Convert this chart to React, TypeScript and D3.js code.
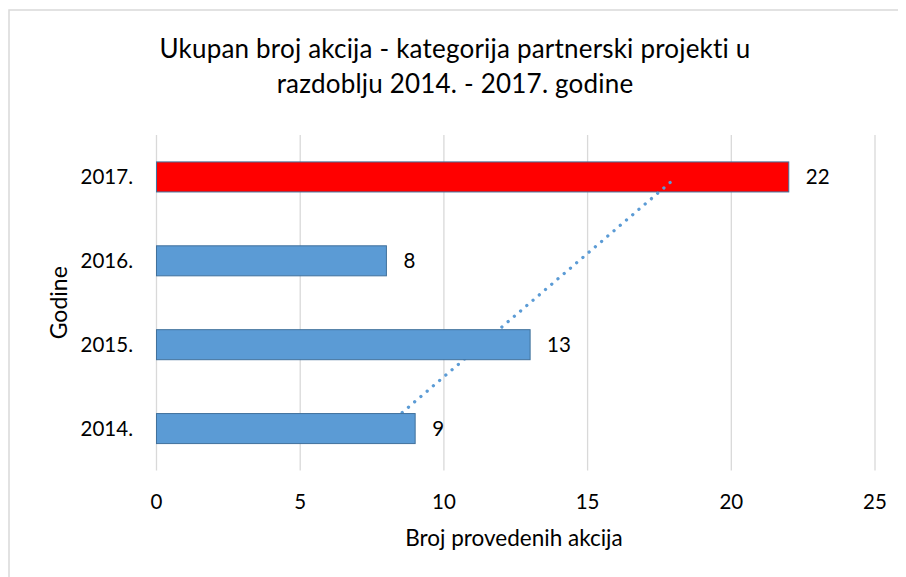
import React from "react";
import * as d3 from "d3";

const categories = ["2014.", "2015.", "2016.", "2017."];
const values = [9, 13, 8, 22];
const barColors = ["#5b9bd5", "#5b9bd5", "#5b9bd5", "#ff0000"];
const xTicks = [0, 5, 10, 15, 20, 25];
const titleLines = [
  "Ukupan broj akcija - kategorija partnerski projekti u",
  "razdoblju 2014. - 2017. godine",
];
const xTitle = "Broj provedenih akcija";
const yTitle = "Godine";
const trendRange = [1, 3.94];

const W = 898;
const H = 569;
const FONT = "Lato, 'Open Sans', sans-serif";

export default function App() {
  const x = d3.scaleLinear().domain([0, 25]).range([148.5, 867]);
  const y = d3
    .scaleBand<string>()
    .domain([...categories].reverse())
    .range([127, 462.5])
    .paddingInner(0.642)
    .paddingOuter(0.321);
  const bw = y.bandwidth();
  const center = (c: string) => (y(c) as number) + bw / 2;

  // linear regression trendline over category index 1..n
  const n = values.length;
  const ts = values.map((_, i) => i + 1);
  const tMean = d3.mean(ts) as number;
  const vMean = d3.mean(values) as number;
  const slope =
    d3.sum(ts.map((t, i) => (t - tMean) * (values[i] - vMean))) /
    d3.sum(ts.map((t) => (t - tMean) ** 2));
  const intercept = vMean - slope * tMean;
  const tToY = d3
    .scaleLinear()
    .domain([1, n])
    .range([center(categories[0]), center(categories[n - 1])]);
  const trendPts: [number, number][] = trendRange.map((t) => [
    x(intercept + slope * t),
    tToY(t),
  ]);
  const line = d3.line();

  const bars = categories.map((c, i) => ({ c, v: values[i], color: barColors[i] }));
  const redBars = bars.filter((b) => b.color !== "#5b9bd5");
  const blueBars = bars.filter((b) => b.color === "#5b9bd5");

  const renderBar = (b: { c: string; v: number; color: string }) => (
    <rect
      key={b.c}
      x={x(0)}
      y={y(b.c)}
      width={x(b.v) - x(0)}
      height={bw}
      fill={b.color}
      stroke="#41719c"
      strokeWidth={1}
    />
  );

  return (
    <svg width={W} height={H} style={{ display: "block", fontFamily: FONT }}>
      <rect x={0} y={0} width={W} height={H} fill="#fff" />
      <rect
        x={1}
        y={2}
        width={2000}
        height={2000}
        fill="none"
        stroke="#d9d9d9"
        strokeWidth={1.5}
      />
      {titleLines.map((t, i) => (
        <text
          key={i}
          x={447}
          y={50 + i * 35}
          textAnchor="middle"
          fontSize={26}
          letterSpacing={0.2}
          fill="#000"
        >
          {t}
        </text>
      ))}
      {xTicks.map((t) => (
        <line
          key={t}
          x1={x(t)}
          x2={x(t)}
          y1={127}
          y2={462.5}
          stroke="#d9d9d9"
          strokeWidth={1.3}
        />
      ))}
      {redBars.map(renderBar)}
      <path
        d={line(trendPts) as string}
        fill="none"
        stroke="#5b9bd5"
        strokeWidth={3.3}
        strokeLinecap="round"
        strokeDasharray="0.01 8.2"
      />
      {blueBars.map(renderBar)}
      {bars.map((b) => (
        <text
          key={"l" + b.c}
          x={x(b.v) + 17}
          y={center(b.c) + 7}
          fontSize={20.5}
          fill="#000"
        >
          {b.v}
        </text>
      ))}
      {categories.map((c) => (
        <text
          key={"c" + c}
          x={125}
          y={center(c) + 7}
          textAnchor="end"
          fontSize={20.5}
          fill="#000"
        >
          {c}
        </text>
      ))}
      {xTicks.map((t) => (
        <text
          key={"t" + t}
          x={x(t)}
          y={501}
          textAnchor="middle"
          fontSize={20.5}
          fill="#000"
        >
          {t}
        </text>
      ))}
      <text x={506} y={538} textAnchor="middle" fontSize={22.5} fill="#000">
        {xTitle}
      </text>
      <text
        transform={`translate(59, 294.75) rotate(-90)`}
        textAnchor="middle"
        fontSize={23}
        fill="#000"
      >
        {yTitle}
      </text>
    </svg>
  );
}
